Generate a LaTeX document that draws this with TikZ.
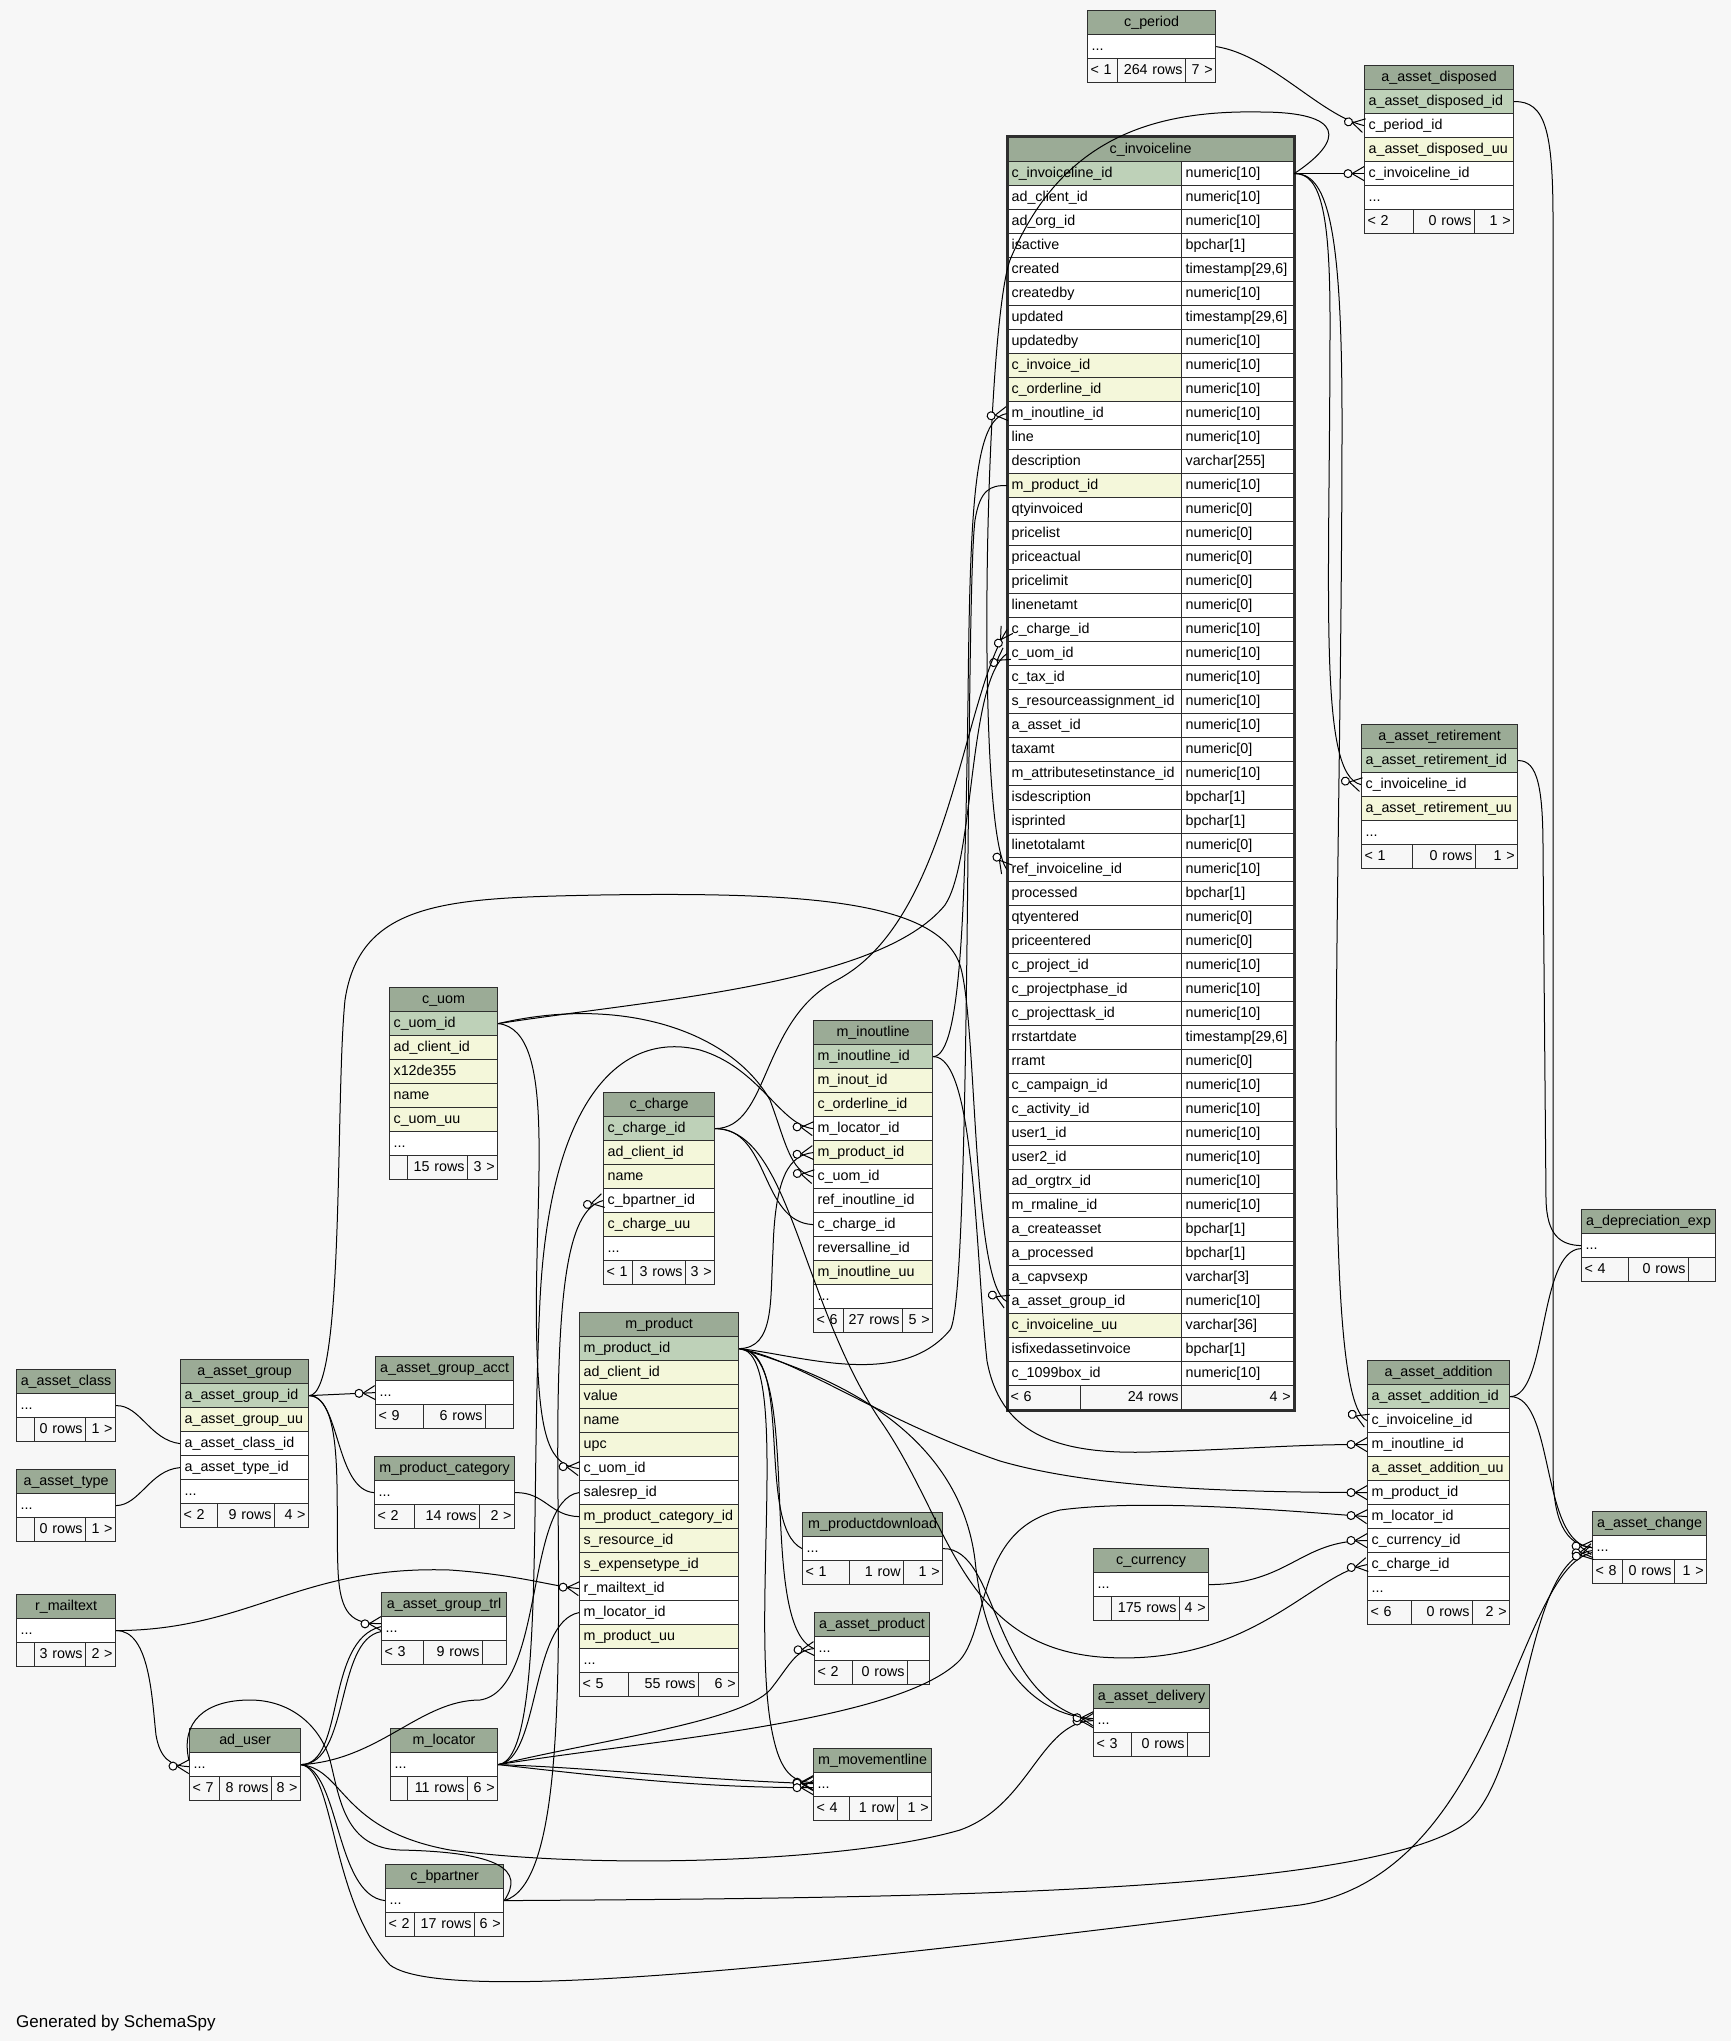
\documentclass[tikz,border=0pt]{standalone}
\usepackage{fontspec}
\setmainfont{Liberation Sans}
\usetikzlibrary{decorations.markings}
\definecolor{bgc}{HTML}{F7F7F7}
\definecolor{hdc}{HTML}{9BAB96}
\definecolor{pkc}{HTML}{BED1B8}
\definecolor{idxc}{HTML}{F4F7DA}
\definecolor{bdr}{HTML}{2E2E2E}
\tikzset{
    cell/.style={draw=bdr, line width=1.2pt, inner xsep=4pt, inner ysep=0pt,
        minimum height=24pt, align=left, text height=10.5pt, text depth=3pt},
    hdcell/.style={cell, fill=hdc, align=center},
    ftcell/.style={cell, fill=bgc, inner xsep=3pt},
    fk/.style={line width=1pt, postaction={decorate}, decoration={markings,
        mark=at position 1 with {
            \draw[line width=1pt] (-12pt,0pt) -- (0pt,7pt) (-12pt,0pt) -- (0pt,-7pt);
            \filldraw[fill=white, line width=1pt] (-16pt,0pt) circle (4pt);}}}
}
\newcommand{\moredots}{...}
\newcommand{\dbtable}[6]{%
    \pgfmathsetmacro{\tw}{#4-8}%
    \node[hdcell, text width=\tw pt, anchor=north west] (#1) at (#2,#3) {#5};%
    \foreach \clr/\txt [count=\i] in {#6}{%
        \node[cell, fill=\clr, text width=\tw pt, anchor=north west] (#1-\i) at (#2,#3+24*\i) {\txt};%
    }%
}
\newcommand{\dbfoot}[9]{%
    \pgfmathsetmacro{\wa}{#4-#3-6}\pgfmathsetmacro{\wb}{#5-#4-6}\pgfmathsetmacro{\wc}{#6-#5-6}%
    \node[ftcell, text width=\wa pt, align=left, anchor=north west] (#1-fa) at (#3,#2) {\mbox{#7}};%
    \node[ftcell, text width=\wb pt, align=right, anchor=north west] (#1-fb) at (#4,#2) {\mbox{#8}};%
    \node[ftcell, text width=\wc pt, align=right, anchor=north west] (#1-fc) at (#5,#2) {\mbox{#9}};%
}
\begin{document}
\catcode`\_=12
\begin{tikzpicture}[x=1pt, y=-1pt, font=\fontsize{14.3pt}{17pt}\selectfont]
    \path[use as bounding box, fill=bgc] (0,0) rectangle (1731,2041);

    \dbtable{cper}{1087}{10}{128}{c_period}{white/\moredots}
    \dbfoot{cper}{58}{1087}{1117}{1185}{1215}{< 1}{264 rows}{7 >}
    \dbtable{adis}{1364}{65}{149}{a_asset_disposed}{pkc/a_asset_disposed_id, white/c_period_id, idxc/a_asset_disposed_uu, white/c_invoiceline_id, white/\moredots}
    \dbfoot{adis}{209}{1364}{1413}{1474}{1513}{< 2}{0 rows}{1 >}
    \dbtable{aret}{1361}{724}{156}{a_asset_retirement}{pkc/a_asset_retirement_id, white/c_invoiceline_id, idxc/a_asset_retirement_uu, white/\moredots}
    \dbfoot{aret}{844}{1361}{1412}{1475}{1517}{< 1}{0 rows}{1 >}
    \dbtable{adep}{1581}{1209}{134}{a_depreciation_exp}{white/\moredots}
    \dbfoot{adep}{1257}{1581}{1628}{1688}{1715}{< 4}{0 rows}{}
    \dbtable{aadd}{1367}{1360}{142}{a_asset_addition}{pkc/a_asset_addition_id, white/c_invoiceline_id, white/m_inoutline_id, idxc/a_asset_addition_uu, white/m_product_id, white/m_locator_id, white/c_currency_id, white/c_charge_id, white/\moredots}
    \dbfoot{aadd}{1600}{1367}{1411}{1472}{1509}{< 6}{0 rows}{2 >}
    \dbtable{achg}{1592}{1511}{114}{a_asset_change}{white/\moredots}
    \dbfoot{achg}{1559}{1592}{1622}{1674}{1706}{< 8}{0 rows}{1 >}
    \dbtable{ccur}{1093}{1548}{115}{c_currency}{white/\moredots}
    \dbfoot{ccur}{1596}{1093}{1111}{1179}{1208}{}{175 rows}{4 >}
    \dbtable{adel}{1093}{1684}{116}{a_asset_delivery}{white/\moredots}
    \dbfoot{adel}{1732}{1093}{1131}{1187}{1209}{< 3}{0 rows}{}
    \dbtable{mmov}{813}{1748}{118}{m_movementline}{white/\moredots}
    \dbfoot{mmov}{1796}{813}{849}{897}{931}{< 4}{1 row}{1 >}
    \dbtable{aprd}{814}{1612}{115}{a_asset_product}{white/\moredots}
    \dbfoot{aprd}{1660}{814}{852}{907}{929}{< 2}{0 rows}{}
    \dbtable{mpdl}{802}{1512}{140}{m_productdownload}{white/\moredots}
    \dbfoot{mpdl}{1560}{802}{849}{903}{942}{< 1}{1 row}{1 >}
    \dbtable{mprod}{579}{1312}{159}{m_product}{pkc/m_product_id, idxc/ad_client_id, idxc/value, idxc/name, idxc/upc, white/c_uom_id, white/salesrep_id, idxc/m_product_category_id, idxc/s_resource_id, idxc/s_expensetype_id, white/r_mailtext_id, white/m_locator_id, idxc/m_product_uu, white/\moredots}
    \dbfoot{mprod}{1672}{579}{628}{698}{738}{< 5}{55 rows}{6 >}
    \dbtable{minl}{813}{1020}{119}{m_inoutline}{pkc/m_inoutline_id, idxc/m_inout_id, idxc/c_orderline_id, white/m_locator_id, idxc/m_product_id, white/c_uom_id, white/ref_inoutline_id, white/c_charge_id, white/reversalline_id, idxc/m_inoutline_uu, white/\moredots}
    \dbfoot{minl}{1308}{813}{843}{902}{932}{< 6}{27 rows}{5 >}
    \dbtable{cchg}{603}{1092}{111}{c_charge}{pkc/c_charge_id, idxc/ad_client_id, idxc/name, white/c_bpartner_id, idxc/c_charge_uu, white/\moredots}
    \dbfoot{cchg}{1260}{603}{632}{685}{714}{< 1}{3 rows}{3 >}
    \dbtable{cuom}{389}{987}{108}{c_uom}{pkc/c_uom_id, idxc/ad_client_id, idxc/x12de355, idxc/name, idxc/c_uom_uu, white/\moredots}
    \dbfoot{cuom}{1155}{389}{407}{467}{497}{}{15 rows}{3 >}
    \dbtable{agrp}{180}{1359}{128}{a_asset_group}{pkc/a_asset_group_id, idxc/a_asset_group_uu, white/a_asset_class_id, white/a_asset_type_id, white/\moredots}
    \dbfoot{agrp}{1503}{180}{217}{274}{308}{< 2}{9 rows}{4 >}
    \dbtable{aacct}{375}{1356}{138}{a_asset_group_acct}{white/\moredots}
    \dbfoot{aacct}{1404}{375}{423}{485}{513}{< 9}{6 rows}{}
    \dbtable{mpcat}{374}{1456}{140}{m_product_category}{white/\moredots}
    \dbfoot{mpcat}{1504}{374}{414}{479}{514}{< 2}{14 rows}{2 >}
    \dbtable{atrl}{381}{1592}{125}{a_asset_group_trl}{white/\moredots}
    \dbfoot{atrl}{1640}{381}{423}{482}{506}{< 3}{9 rows}{}
    \dbtable{acls}{16}{1369}{99}{a_asset_class}{white/\moredots}
    \dbfoot{acls}{1417}{16}{34}{85}{115}{}{0 rows}{1 >}
    \dbtable{atyp}{16}{1469}{99}{a_asset_type}{white/\moredots}
    \dbfoot{atyp}{1517}{16}{34}{85}{115}{}{0 rows}{1 >}
    \dbtable{rmail}{16}{1594}{99}{r_mailtext}{white/\moredots}
    \dbfoot{rmail}{1642}{16}{34}{85}{115}{}{3 rows}{2 >}
    \dbtable{aduser}{189}{1728}{111}{ad_user}{white/\moredots}
    \dbfoot{aduser}{1776}{189}{219}{271}{300}{< 7}{8 rows}{8 >}
    \dbtable{mloc}{390}{1728}{107}{m_locator}{white/\moredots}
    \dbfoot{mloc}{1776}{390}{407}{467}{497}{}{11 rows}{6 >}
    \dbtable{cbp}{385}{1864}{118}{c_bpartner}{white/\moredots}
    \dbfoot{cbp}{1912}{385}{414}{474}{503}{< 2}{17 rows}{6 >}

    \node[hdcell, text width=278pt, anchor=north west] (cinv) at (1007,137) {c_invoiceline};
    \foreach \clr/\nm/\tp [count=\i] in {pkc/c_invoiceline_id/numeric[10], white/ad_client_id/numeric[10],
        white/ad_org_id/numeric[10], white/isactive/bpchar[1], white/created/{timestamp[29,6]},
        white/createdby/numeric[10], white/updated/{timestamp[29,6]}, white/updatedby/numeric[10],
        idxc/c_invoice_id/numeric[10], idxc/c_orderline_id/numeric[10], white/m_inoutline_id/numeric[10],
        white/line/numeric[10], white/description/varchar[255], idxc/m_product_id/numeric[10],
        white/qtyinvoiced/numeric[0], white/pricelist/numeric[0], white/priceactual/numeric[0],
        white/pricelimit/numeric[0], white/linenetamt/numeric[0], white/c_charge_id/numeric[10],
        white/c_uom_id/numeric[10], white/c_tax_id/numeric[10], white/s_resourceassignment_id/numeric[10],
        white/a_asset_id/numeric[10], white/taxamt/numeric[0], white/m_attributesetinstance_id/numeric[10],
        white/isdescription/bpchar[1], white/isprinted/bpchar[1], white/linetotalamt/numeric[0],
        white/ref_invoiceline_id/numeric[10], white/processed/bpchar[1], white/qtyentered/numeric[0],
        white/priceentered/numeric[0], white/c_project_id/numeric[10], white/c_projectphase_id/numeric[10],
        white/c_projecttask_id/numeric[10], white/rrstartdate/{timestamp[29,6]}, white/rramt/numeric[0],
        white/c_campaign_id/numeric[10], white/c_activity_id/numeric[10], white/user1_id/numeric[10],
        white/user2_id/numeric[10], white/ad_orgtrx_id/numeric[10], white/m_rmaline_id/numeric[10],
        white/a_createasset/bpchar[1], white/a_processed/bpchar[1], white/a_capvsexp/varchar[3],
        white/a_asset_group_id/numeric[10], idxc/c_invoiceline_uu/varchar[36],
        white/isfixedassetinvoice/bpchar[1], white/c_1099box_id/numeric[10]}{
        \node[cell, fill=\clr, text width=166pt, anchor=north west] (cinv-n\i) at (1007,137+24*\i) {\nm};
        \node[cell, fill=white, text width=104pt, anchor=north west] (cinv-t\i) at (1181,137+24*\i) {\tp};
    }
    \dbfoot{cinv}{1385}{1007}{1080}{1181}{1293}{< 6}{24 rows}{4 >}
    \draw[bdr, line width=3pt] (cinv.north west) rectangle (cinv-fc.south east);

    \draw[fk] (cper-1.east) .. controls (1270,55) and (1320,115) .. (adis-2.west);
    \draw[fk] (cinv-t1.east) -- (adis-4.west);
    \draw[fk] (cinv-t1.east) .. controls (1320,173) and (1330,210) .. (1330,320) .. controls (1330,600) and (1318,775) .. (aret-2.west);
    \draw[fk] (cinv-t1.east) .. controls (1326,173) and (1342,220) .. (1342,420) .. controls (1342,900) and (1318,1400) .. (aadd-2.west);
    \draw[fk] (cinv-t1.east) .. controls (1345,140) and (1345,112) .. (1260,112) .. controls (1150,110) and (1060,140) .. (1010,260) .. controls (985,330) and (975,830) .. (cinv-n30.west);
    \draw[fk] (adis-1.east) .. controls (1545,101) and (1553,130) .. (1553,220) -- (1553,1470) .. controls (1553,1520) and (1565,1545) .. (achg-1.west);
    \draw[fk] (aret-1.east) .. controls (1538,760) and (1543,790) .. (1543,850) -- (1546,1200) .. controls (1547,1235) and (1560,1245) .. (adep-1.west);
    \draw[fk] (aadd-1.east) .. controls (1548,1396) and (1538,1250) .. ([yshift=-3pt]adep-1.west);
    \draw[fk] (aadd-1.east) .. controls (1555,1396) and (1540,1545) .. (achg-1.west);
    \draw[fk] (cbp-1.east) .. controls (900,1898) and (1380,1895) .. (1470,1820) .. controls (1530,1760) and (1525,1560) .. ([yshift=-3pt]achg-1.west);
    \draw[fk] (aduser-1.east) .. controls (335,1770) and (330,1900) .. (390,1965) .. controls (450,2010) and (900,1955) .. (1300,1905) .. controls (1500,1875) and (1515,1570) .. ([yshift=-5pt]achg-1.west);
    \draw[fk] (cbp-1.east) .. controls (525,1870) and (500,1852) .. (400,1850) .. controls (345,1848) and (340,1800) .. (330,1760) .. controls (320,1725) and (290,1700) .. (250,1700) .. controls (205,1700) and (180,1722) .. ([yshift=4pt]aduser-1.west);
    \draw[fk] (rmail-1.east) .. controls (150,1630) and (152,1700) .. (156,1735) .. controls (160,1758) and (170,1766) .. ([yshift=-2pt]aduser-1.west);
    \draw[fk] (aduser-1.east) .. controls (340,1770) and (335,1895) .. (cbp-1.west);
    \draw[fk] (aduser-1.east) .. controls (380,1760) and (420,1700) .. (480,1700) .. controls (545,1690) and (525,1500) .. (mprod-7.west);
    \draw[fk] (aduser-1.east) .. controls (345,1764) and (325,1640) .. ([yshift=2pt]atrl-1.west);
    \draw[fk] (aduser-1.east) .. controls (350,1764) and (335,1640) .. ([yshift=-3pt]atrl-1.west);
    \draw[fk] (aduser-1.east) .. controls (345,1770) and (340,1830) .. (450,1850) .. controls (600,1870) and (850,1862) .. (960,1830) .. controls (1030,1805) and (1040,1722) .. (adel-1.west);
    \draw[fk] (agrp-1.east) .. controls (345,1398) and (335,1500) .. (338,1570) .. controls (340,1615) and (352,1624) .. ([yshift=5pt]atrl-1.west);
    \draw[fk] (cbp-1.east) .. controls (560,1885) and (560,1700) .. (558,1500) .. controls (556,1300) and (565,1210) .. (cchg-4.west);
    \draw[fk] (cuom-1.east) .. controls (650,1000) and (880,985) .. (945,905) .. controls (975,860) and (968,680) .. (cinv-n21.west);
    \draw[fk] (cuom-1.east) .. controls (620,995) and (730,1030) .. (770,1100) .. controls (785,1140) and (790,1172) .. (minl-6.west);
    \draw[fk] (cuom-1.east) .. controls (560,1030) and (532,1200) .. (537,1350) .. controls (540,1440) and (550,1465) .. (mprod-6.west);
    \draw[fk] (cchg-1.east) .. controls (770,1128) and (760,1020) .. (837,980) .. controls (950,920) and (962,700) .. (cinv-n20.west);
    \draw[fk] (cchg-1.east) .. controls (770,1128) and (760,1222) .. (minl-8.west);
    \draw[fk] (cchg-1.east) .. controls (790,1130) and (800,1300) .. (880,1420) .. controls (950,1520) and (960,1645) .. (1100,1657) .. controls (1250,1668) and (1310,1575) .. (aadd-8.west);
    \draw[fk] (minl-1.east) .. controls (962,1056) and (965,900) .. (968,700) .. controls (970,500) and (975,418) .. (cinv-n11.west);
    \draw[fk] (minl-1.east) .. controls (975,1056) and (975,1250) .. (987,1361) .. controls (1000,1430) and (1050,1455) .. (1150,1452) .. controls (1250,1449) and (1300,1444) .. (aadd-3.west);
    \draw[fk] (mprod-1.east) .. controls (800,1355) and (900,1390) .. (950,1330) .. controls (972,1300) and (965,600) .. (975,520) .. controls (980,490) and (990,485) .. (cinv-n14.west);
    \draw[fk] (mprod-1.east) .. controls (775,1348) and (770,1300) .. (773,1250) .. controls (775,1175) and (790,1155) .. (minl-5.west);
    \draw[fk] (mprod-1.east) .. controls (800,1360) and (880,1420) .. (1000,1461) .. controls (1100,1490) and (1250,1492) .. (aadd-5.west);
    \draw[fk] (mprod-1.east) .. controls (795,1350) and (755,1525) .. (mpdl-1.west);
    \draw[fk] (mprod-1.east) .. controls (805,1352) and (755,1625) .. (aprd-1.west);
    \draw[fk] (mprod-1.east) .. controls (790,1350) and (752,1600) .. (770,1720) .. controls (778,1770) and (790,1782) .. ([yshift=2pt]mmov-1.west);
    \draw[fk] (mprod-1.east) .. controls (850,1380) and (960,1440) .. (975,1560) .. controls (985,1660) and (1030,1715) .. ([yshift=2pt]adel-1.west);
    \draw[fk] (mpdl-1.east) .. controls (1000,1548) and (990,1700) .. (adel-1.west);
    \draw[fk] (mloc-1.east) .. controls (545,1760) and (530,1500) .. (540,1300) .. controls (550,1100) and (620,1030) .. (700,1050) .. controls (760,1068) and (780,1125) .. (minl-4.west);
    \draw[fk] (mloc-1.east) .. controls (540,1760) and (530,1622) .. (mprod-12.west);
    \draw[fk] (mloc-1.east) .. controls (600,1768) and (700,1780) .. ([yshift=1pt]mmov-1.west);
    \draw[fk] (mloc-1.east) .. controls (600,1776) and (700,1788) .. ([yshift=-3pt]mmov-1.west);
    \draw[fk] (mloc-1.east) .. controls (600,1740) and (740,1722) .. (770,1690) .. controls (790,1665) and (795,1650) .. (aprd-1.west);
    \draw[fk] (mloc-1.east) .. controls (650,1740) and (900,1722) .. (960,1660) .. controls (990,1625) and (975,1530) .. (1060,1510) .. controls (1150,1498) and (1300,1512) .. (aadd-6.west);
    \draw[fk] (ccur-1.east) .. controls (1290,1584) and (1300,1540) .. (aadd-7.west);
    \draw[fk] (agrp-1.east) .. controls (345,1395) and (335,1100) .. (345,1000) .. controls (360,900) and (450,898) .. (600,895) .. controls (800,892) and (930,900) .. (958,960) .. controls (978,1000) and (970,1285) .. (cinv-n48.west);
    \draw[fk] (agrp-1.east) -- (aacct-1.west);
    \draw[fk] (agrp-1.east) .. controls (340,1395) and (335,1490) .. (mpcat-1.west);
    \draw[fk] (acls-1.east) .. controls (140,1405) and (150,1440) .. (agrp-3.west);
    \draw[fk] (atyp-1.east) .. controls (140,1505) and (150,1470) .. (agrp-4.west);
    \draw[fk] (mpcat-1.east) .. controls (545,1492) and (550,1516) .. (mprod-8.west);
    \draw[fk] (rmail-1.east) .. controls (250,1630) and (300,1565) .. (450,1570) .. controls (520,1575) and (550,1586) .. (mprod-11.west);

    \node[anchor=base west, inner sep=0pt, font=\fontsize{17pt}{20pt}\selectfont] (gen) at (16,2027) {Generated by SchemaSpy};
\end{tikzpicture}
\end{document}
